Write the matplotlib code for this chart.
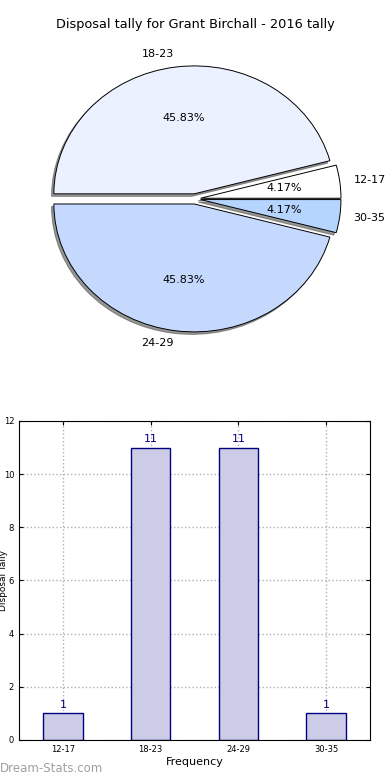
import numpy as np
import matplotlib
matplotlib.use('Agg')
import matplotlib.pyplot as plt

# data
groups = ['12-17', '18-23', '24-29', '30-35']
tally = [1, 11, 11, 1]
pie_colors = ['#ffffff', '#ebf1fe', '#c5d8fe', '#b5d5fe']

fig = plt.figure(figsize=(3.9, 7.8), dpi=100)

# pie chart (top)
ax1 = fig.add_axes([0.05, 0.54, 0.90, 0.41])
wedges, texts, autotexts = ax1.pie(tally, labels=groups, colors=pie_colors,
                                   explode=[0.04] * len(tally),
                                   shadow={'ox': -0.012, 'oy': -0.014, 'color': '#505050', 'alpha': 0.6},
                                   autopct='%.2f%%', pctdistance=0.6, labeldistance=1.1,
                                   wedgeprops={'edgecolor': 'black', 'linewidth': 0.7},
                                   textprops={'fontsize': 8})
ax1.set_aspect('auto')
ax1.set_xlim(-1.25, 1.25)
ax1.set_ylim(-1.25, 1.25)
ax1.set_title('Disposal tally for Grant Birchall - 2016 tally', fontsize=9.3, pad=8)

# bar chart (bottom)
ax2 = fig.add_axes([0.0487, 0.0513, 0.9003, 0.409])
x = np.arange(len(groups))
bars = ax2.bar(x, tally, width=0.45, color='#ccccE6', edgecolor='navy', linewidth=1, zorder=2)
for xi, v in zip(x, tally):
    ax2.text(xi, v + 0.12, str(v), ha='center', va='bottom', color='navy', fontsize=8)
ax2.set_xlim(-0.5, 3.5)
ax2.set_ylim(0, 12)
ax2.set_yticks(range(0, 13, 2))
ax2.set_xticks(x)
ax2.set_xticklabels(groups)
ax2.tick_params(labelsize=6, direction='in', top=True, right=True, length=3)
ax2.grid(True, linestyle=':', color='#b0b0b0', linewidth=1, zorder=0)
ax2.set_xlabel('Frequency', fontsize=8, labelpad=2)
ax2.set_ylabel('Disposal Tally', fontsize=6.5, labelpad=3)
ax2.yaxis.set_label_coords(-0.031, 0.5)

fig.text(0.0, 0.006, 'Dream-Stats.com', fontsize=8.5, color='#a0a0a0', ha='left', va='bottom')

fig.savefig('out.png', dpi=100, facecolor='white')
